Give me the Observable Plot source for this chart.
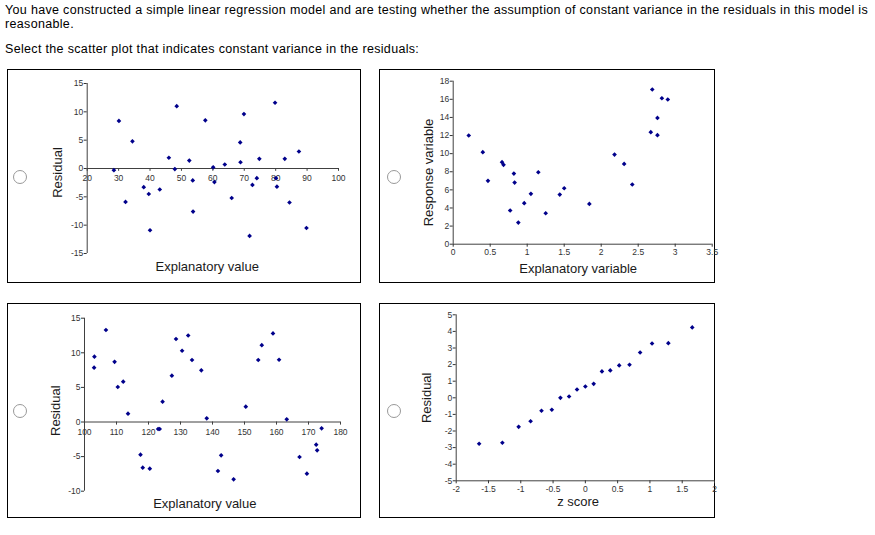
<!DOCTYPE html>
<html><head><meta charset="utf-8">
<script src="https://cdn.jsdelivr.net/npm/d3@7"></script>
<script src="https://cdn.jsdelivr.net/npm/@observablehq/plot@0.6"></script>
<style>
body{margin:0;background:#fff;width:875px;height:535px;overflow:hidden;position:relative;font-family:"Liberation Sans",Arial,sans-serif}
.q{position:absolute;left:5px;font-size:12.5px;line-height:14px;color:#000;white-space:nowrap}
.box{position:absolute;border:1px solid #000;box-sizing:border-box}
.radio{position:absolute;appearance:none;-webkit-appearance:none;margin:0;width:14px;height:14px;border:1px solid #999;border-radius:50%;background:#fff;box-sizing:border-box}
.plot{position:absolute}
.plot svg{overflow:visible}
</style></head><body>
<div class="q" id="l1" style="top:3px">You have constructed a simple linear regression model and are testing whether the assumption of constant variance in the residuals in this model is</div>
<div class="q" id="l2" style="top:17px">reasonable.</div>
<div class="q" id="l3" style="top:42px">Select the scatter plot that indicates constant variance in the residuals:</div>

<div class="box" style="left:7px;top:69px;width:354px;height:214px"></div>
<div class="box" style="left:379px;top:69px;width:336px;height:214px"></div>
<div class="box" style="left:7px;top:303px;width:354px;height:215px"></div>
<div class="box" style="left:379px;top:303px;width:336px;height:215px"></div>

<input type="radio" name="choice" class="radio" style="left:13px;top:170px">
<input type="radio" name="choice" class="radio" style="left:387px;top:170px">
<input type="radio" name="choice" class="radio" style="left:13px;top:404px">
<input type="radio" name="choice" class="radio" style="left:387px;top:404px">

<div class="plot" id="p1" style="left:8px;top:70px"></div>
<div class="plot" id="p2" style="left:380px;top:70px"></div>
<div class="plot" id="p3" style="left:8px;top:304px"></div>
<div class="plot" id="p4" style="left:380px;top:304px"></div>

<script>
// ---- Data ----
// Panel 1: residual vs explanatory value (20–100)
const p1X = [28.5,30.1,32.2,34.4,38.0,39.6,40.0,43.1,46.0,47.9,48.5,52.5,53.6,53.7,57.6,60.1,60.5,63.8,66.0,68.7,68.8,69.9,71.7,72.6,74.0,74.8,79.8,80.1,80.4,82.9,84.4,87.4,89.8];
const p1Y = [-0.3,8.4,-5.9,4.8,-3.3,-4.5,-10.9,-3.7,1.9,-0.1,11.0,1.4,-2.1,-7.6,8.5,0.2,-2.4,0.7,-5.2,4.6,1.1,9.6,-11.9,-2.9,-1.7,1.7,11.6,-1.7,-3.2,1.7,-6.0,3.0,-10.5];
const p1XTicks = [20,30,40,50,60,70,80,90,100];
const p1YTicks = [-15,-10,-5,0,5,10,15];

// Panel 2: response vs explanatory variable (0–3.5)
const p2X = [0.21,0.40,0.47,0.66,0.68,0.82,0.83,0.77,0.88,0.96,1.05,1.15,1.25,1.44,1.50,1.84,2.18,2.31,2.42,2.67,2.69,2.76,2.76,2.82,2.90];
const p2Y = [12.0,10.16,7.0,9.06,8.76,7.8,6.8,3.72,2.39,4.53,5.56,7.95,3.42,5.48,6.18,4.45,9.9,8.87,6.59,12.37,17.08,13.95,12.04,16.12,15.98];
const p2XTicks = [0,0.5,1,1.5,2,2.5,3,3.5];
const p2YTicks = [0,2,4,6,8,10,12,14,16,18];

// Panel 3: residual vs explanatory value (100–180)
const p3X = [103.1,103.0,106.7,109.4,110.4,112.1,113.6,117.5,118.2,120.4,123.0,123.5,124.4,127.3,128.6,130.5,132.4,133.6,136.5,138.2,141.7,142.7,146.6,150.4,154.3,155.4,158.9,160.8,163.2,167.2,169.5,172.4,172.7,174.1];
const p3Y = [9.44,7.85,13.3,8.7,5.06,5.83,1.2,-4.72,-6.6,-6.74,-1.01,-1.01,2.94,6.7,12.0,10.3,12.5,8.96,7.47,0.53,-7.08,-4.82,-8.29,2.22,8.96,11.1,12.8,9.0,0.39,-5.06,-7.47,-3.28,-4.1,-0.92];
const p3XTicks = [100,110,120,130,140,150,160,170,180];
const p3YTicks = [-10,-5,0,5,10,15];

// Panel 4: residual vs z score
const p4X = [-1.645,-1.285,-1.033,-0.848,-0.679,-0.519,-0.386,-0.252,-0.129,0,0.129,0.257,0.386,0.524,0.684,0.848,1.033,1.285,1.655];
const p4Y = [-2.77,-2.71,-1.75,-1.41,-0.78,-0.72,0.0,0.08,0.5,0.68,0.84,1.59,1.65,1.95,1.99,2.73,3.27,3.29,4.24];
const p4XTicks = [-2,-1.5,-1,-0.5,0,0.5,1,1.5,2];
const p4YTicks = [-5,-4,-3,-2,-1,0,1,2,3,4,5];

// ---- Style ----
const dotColor = "#00008b";
const axisColor = "#404040";
const tickText = "#333";
const labelColor = "#1a1a1a";
const tickFS = 8.5, labelFS = 13;
const fmt = d => String(d);
const pts = (xs, ys) => xs.map((x, i) => ({x, y: ys[i]}));
const baseStyle = {fontFamily: "'Liberation Sans', Arial, sans-serif", background: "transparent", overflow: "visible"};

function dots(xs, ys) {
  return Plot.dot(pts(xs, ys), {x: "x", y: "y", symbol: "diamond2", r: 2.1, fill: dotColor, stroke: "none"});
}
function yAxis(ticks) {
  return Plot.axisY({ticks, tickSize: 3, tickPadding: 1, tickFormat: fmt, fontSize: tickFS, color: tickText, label: null});
}
function xAxisBottom(ticks) {
  return Plot.axisX({ticks, tickSize: 3, tickPadding: 2, tickFormat: fmt, fontSize: tickFS, color: tickText, label: null});
}
function xAxisMid(ticks, tickLen) {
  return [
    Plot.ruleX(ticks, {x: d => d, y1: 0, y2: -tickLen, stroke: axisColor}),
    Plot.text(ticks, {x: d => d, y: 0, dy: 10, text: fmt, fontSize: tickFS, fill: tickText})
  ];
}
function xLabel(t, dx, dy) {
  return Plot.text([t], {text: d => d, frameAnchor: "bottom", textAnchor: "middle", lineAnchor: "middle", dx, dy, fontSize: labelFS, fill: labelColor});
}
function yLabel(t, dx, dy) {
  return Plot.text([t], {text: d => d, frameAnchor: "left", rotate: -90, textAnchor: "middle", lineAnchor: "middle", dx, dy, fontSize: labelFS, fill: labelColor});
}

const p1 = Plot.plot({
  width: 350, height: 211,
  marginLeft: 78.7, marginRight: 20, marginTop: 13, marginBottom: 28,
  x: {domain: [20, 100], axis: null}, y: {domain: [-15, 15], axis: null},
  style: baseStyle,
  marks: [
    Plot.ruleX([20], {stroke: axisColor}),
    Plot.ruleY([0], {stroke: axisColor}),
    yAxis(p1YTicks),
    ...xAxisMid(p1XTicks, 0.5),
    dots(p1X, p1Y),
    xLabel("Explanatory value", -5.6, 13.3),
    yLabel("Residual", -29, 4)
  ]
});

const p2 = Plot.plot({
  width: 334, height: 211,
  marginLeft: 72.7, marginRight: 2.3, marginTop: 10.7, marginBottom: 37.3,
  x: {domain: [0, 3.5], axis: null}, y: {domain: [0, 18], axis: null},
  style: baseStyle,
  marks: [
    Plot.ruleX([0], {stroke: axisColor}),
    Plot.ruleY([0], {stroke: axisColor}),
    yAxis(p2YTicks),
    xAxisBottom(p2XTicks),
    dots(p2X, p2Y),
    xLabel("Explanatory variable", -4.5, 24.3),
    yLabel("Response variable", -24.7, 9.8)
  ]
});

const p3 = Plot.plot({
  width: 350, height: 212,
  marginLeft: 76, marginRight: 18, marginTop: 13.7, marginBottom: 25.3,
  x: {domain: [100, 180], axis: null}, y: {domain: [-10, 15], axis: null},
  style: baseStyle,
  marks: [
    Plot.ruleX([100], {stroke: axisColor}),
    Plot.ruleY([0], {stroke: axisColor}),
    yAxis(p3YTicks),
    ...xAxisMid(p3XTicks, 0.45),
    dots(p3X, p3Y),
    xLabel("Explanatory value", -7.7, 12.3),
    yLabel("Residual", -29, 6)
  ]
});

const p4 = Plot.plot({
  width: 334, height: 212,
  marginLeft: 75.7, marginRight: 0, marginTop: 10.3, marginBottom: 35.7,
  x: {domain: [-2, 2], axis: null}, y: {domain: [-5, 5], axis: null},
  style: baseStyle,
  marks: [
    Plot.ruleX([-2], {stroke: axisColor}),
    Plot.ruleY([-5], {stroke: axisColor}),
    yAxis(p4YTicks),
    xAxisBottom(p4XTicks),
    dots(p4X, p4Y),
    xLabel("z score", -7.2, 20.7),
    yLabel("Residual", -29.5, 0)
  ]
});

document.getElementById("p1").append(p1);
document.getElementById("p2").append(p2);
document.getElementById("p3").append(p3);
document.getElementById("p4").append(p4);

// fit header text widths to the reference line lengths
function fit(id, target) {
  const el = document.getElementById(id);
  const w = el.getBoundingClientRect().width;
  const n = el.textContent.length;
  el.style.letterSpacing = ((target - w) / n) + "px";
}
fit("l1", 863);
const ls = document.getElementById("l1").style.letterSpacing;
document.getElementById("l2").style.letterSpacing = ls;
document.getElementById("l3").style.letterSpacing = ls;
</script>
</body></html>
